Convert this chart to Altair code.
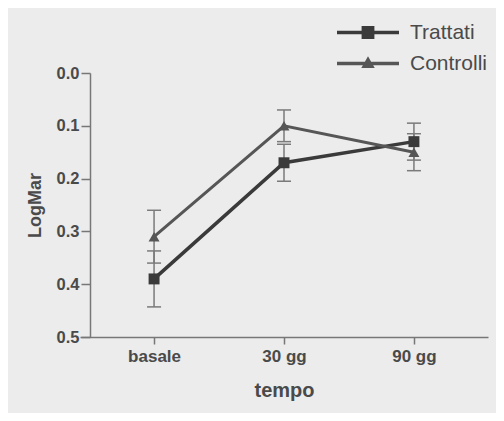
import altair as alt
import pandas as pd

categories = ["basale", "30 gg", "90 gg"]
series_names = ["Trattati", "Controlli"]
trattati_mean = [0.39, 0.17, 0.13]
trattati_err = [0.053, 0.035, 0.035]
controlli_mean = [0.31, 0.10, 0.15]
controlli_err = [0.05, 0.03, 0.035]
y_ticks = [0.0, 0.1, 0.2, 0.3, 0.4, 0.5]

series_colors = ["#3a3a3a", "#565656"]
series_widths = [3.5, 3.0]
series_shapes = ["square", "triangle-up"]
legend_paths = [
    "M-1,0H1M-0.15,-0.15H0.15V0.15H-0.15Z",
    "M-1,0H1M-0.12,0.09L0,-0.12L0.12,0.09Z",
]
FONT = "Liberation Sans"
TXT = "#4a4a4a"

rows = []
for s, means, errs in [("Trattati", trattati_mean, trattati_err),
                       ("Controlli", controlli_mean, controlli_err)]:
    for c, m, e in zip(categories, means, errs):
        rows.append({"tempo": c, "series": s, "mean": m, "lo": m - e, "hi": m + e})
df = pd.DataFrame(rows)
legend_df = pd.DataFrame({"series": series_names})

x_enc = alt.X(
    "tempo:N",
    sort=categories,
    scale=alt.Scale(type="point", domain=categories, padding=0.57),
    axis=alt.Axis(title="tempo", labelAngle=0, labelFont=FONT, labelFontSize=17,
                  labelFontWeight="bold", labelColor=TXT, labelPadding=4,
                  tickSize=7, tickWidth=1.5, tickColor="#777", domainColor="#777",
                  domainWidth=1.5, titleFont=FONT, titleFontSize=20,
                  titleFontWeight="bold", titleColor=TXT, titlePadding=16),
)
y_scale = alt.Scale(domain=[0, 0.5], reverse=True, nice=False, zero=False)
y_axis = alt.Axis(title="LogMar", values=y_ticks, format=".1f", offset=-10,
                  grid=False, labelFont=FONT, labelFontSize=16.5, labelFontWeight="bold",
                  labelColor=TXT, labelPadding=2, tickSize=9, tickWidth=1.5,
                  tickColor="#777", domainColor="#777", domainWidth=1.5,
                  titleFont=FONT, titleFontSize=18, titleFontWeight="bold",
                  titleColor=TXT, titlePadding=12)

base = alt.Chart(df)
layers = []
for name, col, w, shp in zip(series_names, series_colors, series_widths, series_shapes):
    sub = base.transform_filter(alt.datum.series == name)
    rule = sub.mark_rule(color="#7a7a7a", strokeWidth=1.5).encode(
        x=x_enc, y=alt.Y("lo:Q", scale=y_scale, axis=y_axis), y2="hi:Q")
    cap_lo = sub.mark_tick(color="#7a7a7a", size=14, thickness=1.5, opacity=1).encode(
        x=x_enc, y=alt.Y("lo:Q", scale=y_scale, axis=y_axis))
    cap_hi = sub.mark_tick(color="#7a7a7a", size=14, thickness=1.5, opacity=1).encode(
        x=x_enc, y=alt.Y("hi:Q", scale=y_scale, axis=y_axis))
    layers += [rule, cap_lo, cap_hi]
for name, col, w, shp in zip(series_names, series_colors, series_widths, series_shapes):
    sub = base.transform_filter(alt.datum.series == name)
    line = sub.mark_line(color=col, strokeWidth=w).encode(
        x=x_enc, y=alt.Y("mean:Q", scale=y_scale, axis=y_axis))
    pts = sub.mark_point(shape=shp, filled=True, size=120, color=col, opacity=1).encode(
        x=x_enc, y=alt.Y("mean:Q", scale=y_scale, axis=y_axis))
    layers += [line, pts]

leg = alt.Legend(title=None, orient="none", legendX=255, legendY=-56,
                 labelFont=FONT, labelFontSize=21, labelColor=TXT,
                 symbolSize=3844, symbolStrokeWidth=3.5, clipHeight=31,
                 labelOffset=9, padding=0, rowPadding=0)
legend_layer = alt.Chart(legend_df).transform_filter("datum.series == 'none'").mark_point(
    filled=True, opacity=1).encode(
    shape=alt.Shape("series:N", scale=alt.Scale(domain=series_names, range=legend_paths), legend=leg),
    fill=alt.Fill("series:N", scale=alt.Scale(domain=series_names, range=series_colors), legend=leg),
    stroke=alt.Stroke("series:N", scale=alt.Scale(domain=series_names, range=series_colors), legend=leg),
)
layers.append(legend_layer)

chart = alt.layer(*layers).properties(
    width=408, height=264,
    autosize=alt.AutoSizeParams(type="none"),
    padding={"left": 72, "top": 65, "right": 8, "bottom": 76},
    background="#ececec",
).configure_view(stroke=None)

chart.save("out.html", embed_options={"renderer": "svg", "actions": False})
